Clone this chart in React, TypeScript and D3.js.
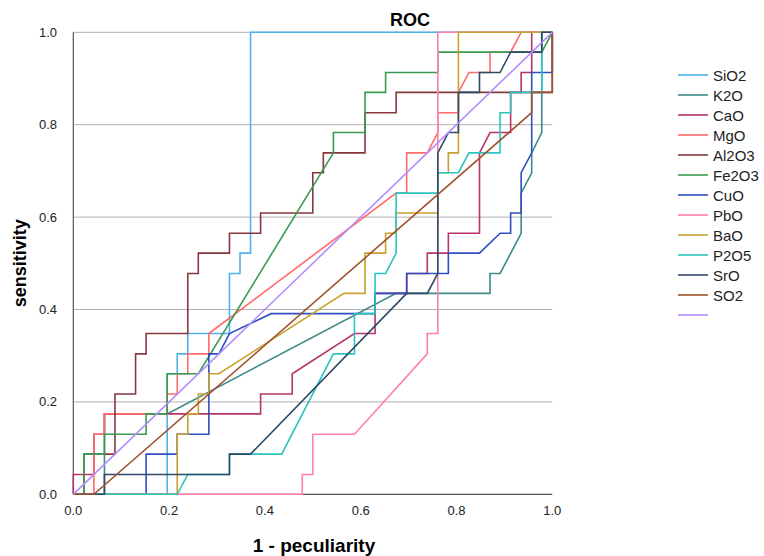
import React from 'react';
import * as d3 from 'd3';

type Pt = [number, number];

const xTicks: number[] = [0, 0.2, 0.4, 0.6, 0.8, 1.0];
const yTicks: number[] = [0, 0.2, 0.4, 0.6, 0.8, 1.0];
const gridTicks: number[] = [0.2, 0.4, 0.6, 0.8, 1.0];

const SiO2: Pt[] = [[0,0],[0.196,0],[0.196,0.261],[0.217,0.261],[0.217,0.304],[0.239,0.304],[0.239,0.348],[0.326,0.348],[0.326,0.478],[0.348,0.478],[0.348,0.522],[0.370,0.522],[0.370,1],[1,1]];
const K2O: Pt[] = [[0,0],[0.065,0],[0.065,0.174],[0.196,0.174],[0.674,0.435],[0.870,0.435],[0.870,0.478],[0.891,0.478],[0.935,0.565],[0.935,0.652],[0.957,0.696],[0.957,0.739],[0.978,0.783],[0.978,1],[1,1]];
const CaO: Pt[] = [[0,0],[0,0.043],[0.043,0.043],[0.043,0.130],[0.065,0.130],[0.065,0.174],[0.391,0.174],[0.391,0.217],[0.457,0.217],[0.457,0.261],[0.587,0.348],[0.630,0.348],[0.630,0.435],[0.696,0.435],[0.696,0.478],[0.739,0.478],[0.739,0.522],[0.783,0.522],[0.783,0.565],[0.848,0.565],[0.848,0.739],[0.870,0.783],[0.913,0.783],[0.913,0.870],[0.935,0.870],[0.935,0.913],[0.957,0.913],[0.957,1],[1,1]];
const MgO: Pt[] = [[0,0],[0.043,0],[0.043,0.130],[0.065,0.130],[0.065,0.174],[0.196,0.174],[0.196,0.217],[0.217,0.217],[0.217,0.261],[0.239,0.261],[0.239,0.304],[0.283,0.304],[0.283,0.348],[0.674,0.652],[0.696,0.652],[0.696,0.739],[0.739,0.739],[0.761,0.783],[0.761,0.826],[0.804,0.826],[0.804,0.870],[0.826,0.913],[0.870,0.913],[0.870,0.957],[0.913,0.957],[0.935,1],[1,1]];
const Al2O3: Pt[] = [[0,0],[0.022,0],[0.022,0.087],[0.087,0.087],[0.087,0.217],[0.130,0.217],[0.130,0.304],[0.152,0.304],[0.152,0.348],[0.239,0.348],[0.239,0.478],[0.261,0.478],[0.261,0.522],[0.326,0.522],[0.326,0.565],[0.391,0.565],[0.391,0.609],[0.500,0.609],[0.500,0.696],[0.522,0.696],[0.522,0.739],[0.609,0.739],[0.609,0.826],[0.674,0.826],[0.674,0.870],[1,0.870],[1,1]];
const Fe2O3: Pt[] = [[0,0],[0.022,0],[0.022,0.087],[0.065,0.087],[0.065,0.130],[0.152,0.130],[0.152,0.174],[0.196,0.174],[0.196,0.261],[0.261,0.261],[0.543,0.739],[0.543,0.783],[0.609,0.783],[0.609,0.870],[0.652,0.870],[0.652,0.913],[0.761,0.913],[0.761,0.957],[0.978,0.957],[1,1]];
const CuO: Pt[] = [[0,0],[0.152,0],[0.152,0.087],[0.217,0.087],[0.217,0.130],[0.283,0.130],[0.283,0.304],[0.304,0.304],[0.326,0.348],[0.413,0.391],[0.630,0.391],[0.630,0.435],[0.696,0.435],[0.696,0.478],[0.783,0.478],[0.783,0.522],[0.848,0.522],[0.891,0.565],[0.913,0.565],[0.913,0.609],[0.935,0.609],[0.935,0.696],[0.957,0.739],[0.957,0.913],[1,0.913],[1,1]];
const PbO: Pt[] = [[0,0],[0.478,0],[0.478,0.043],[0.500,0.043],[0.500,0.130],[0.587,0.130],[0.739,0.304],[0.739,0.348],[0.761,0.348],[0.761,1],[1,1]];
const BaO: Pt[] = [[0,0],[0.217,0],[0.217,0.130],[0.239,0.130],[0.239,0.174],[0.261,0.174],[0.261,0.217],[0.283,0.217],[0.283,0.261],[0.304,0.261],[0.565,0.435],[0.609,0.435],[0.609,0.522],[0.652,0.522],[0.652,0.565],[0.674,0.565],[0.674,0.609],[0.761,0.609],[0.761,0.696],[0.783,0.696],[0.783,0.739],[0.804,0.739],[0.804,1],[1,1]];
const P2O5: Pt[] = [[0,0],[0.217,0],[0.239,0.043],[0.326,0.043],[0.326,0.087],[0.435,0.087],[0.543,0.304],[0.587,0.304],[0.587,0.391],[0.630,0.391],[0.630,0.478],[0.652,0.478],[0.674,0.522],[0.674,0.652],[0.761,0.652],[0.761,0.696],[0.804,0.696],[0.826,0.739],[0.891,0.739],[0.891,0.826],[0.913,0.826],[0.913,0.870],[0.978,0.870],[0.978,1],[1,1]];
const SrO: Pt[] = [[0,0],[0.065,0],[0.065,0.043],[0.326,0.043],[0.326,0.087],[0.370,0.087],[0.696,0.435],[0.739,0.435],[0.761,0.478],[0.761,0.739],[0.783,0.783],[0.804,0.783],[0.804,0.870],[0.848,0.870],[0.848,0.913],[0.891,0.913],[0.913,0.957],[0.978,0.957],[0.978,1],[1,1]];
const SO2: Pt[] = [[0,0],[0.043,0],[0.957,0.826],[0.957,0.870],[1,0.870],[1,1]];
const Reference: Pt[] = [[0,0],[1,1]];

const seriesNames: string[] = ['SiO2','K2O','CaO','MgO','Al2O3','Fe2O3','CuO','PbO','BaO','P2O5','SrO','SO2',''];
const seriesData: Pt[][] = [SiO2, K2O, CaO, MgO, Al2O3, Fe2O3, CuO, PbO, BaO, P2O5, SrO, SO2, Reference];
const seriesColors: string[] = ['#4fb0ee','#3d8a8a','#b8346c','#ff6b6b','#84383e','#3a9a50','#2e4fc0','#ff80aa','#c9a02e','#2cc4c0','#2f4a68','#a0522d','#b48cff'];

const FONT = "'Liberation Sans', Arial, Helvetica, sans-serif";

export default function App() {
  const x = d3.scaleLinear().domain([0, 1]).range([73.3, 552.3]);
  const y = d3.scaleLinear().domain([0, 1]).range([494.3, 32.3]);
  const line = d3.line<Pt>().x(d => x(d[0])).y(d => y(d[1]));
  const fmt = d3.format('.1f');

  return (
    <svg width={764} height={556} style={{ position: 'absolute', left: 0, top: 0, background: '#fff' }} fontFamily={FONT}>
      <rect x={0} y={0} width={764} height={556} fill="#fff" />
      {gridTicks.map(t => (
        <line key={'g' + t} x1={x(0)} x2={x(1)} y1={y(t)} y2={y(t)} stroke="#b0b0b0" strokeWidth={1} />
      ))}
      <line x1={x(0)} x2={x(0)} y1={y(0)} y2={y(1)} stroke="#555" strokeWidth={1.2} />
      <line x1={x(0)} x2={x(1)} y1={y(0)} y2={y(0)} stroke="#555" strokeWidth={1.2} />
      {yTicks.map(t => (
        <text key={'y' + t} x={57} y={y(t) + 4.5} textAnchor="end" fontSize={13} fill="#222">{fmt(t)}</text>
      ))}
      {xTicks.map(t => (
        <text key={'x' + t} x={x(t)} y={515} textAnchor="middle" fontSize={13} fill="#222">{fmt(t)}</text>
      ))}
      {seriesData.map((s, i) => (
        <path key={'s' + i} d={line(s) || ''} fill="none" stroke={seriesColors[i]} strokeWidth={1.6} strokeLinejoin="miter" />
      ))}
      <text x={410} y={26} textAnchor="middle" fontSize={18} fontWeight="bold" fill="#000">ROC</text>
      <text transform={`translate(26,${y(0.5)}) rotate(-90)`} textAnchor="middle" fontSize={18} fontWeight="bold" fill="#000">sensitivity</text>
      <text x={314} y={552} textAnchor="middle" fontSize={19} fontWeight="bold" fill="#000">1 - peculiarity</text>
      {seriesNames.map((n, i) => (
        <g key={'l' + i} transform={`translate(0,${75 + i * 20})`}>
          <line x1={678} x2={708} y1={0} y2={0} stroke={seriesColors[i]} strokeWidth={1.6} />
          <text x={713} y={5.5} fontSize={15} fill="#222">{n}</text>
        </g>
      ))}
    </svg>
  );
}
